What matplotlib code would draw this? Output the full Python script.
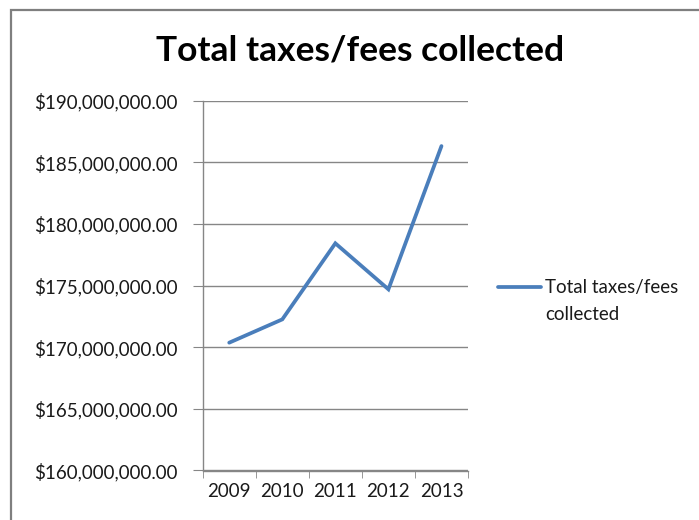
#!/usr/bin/env python
# coding: utf_8

import matplotlib
matplotlib.use("Agg")
import matplotlib.pyplot as plt
import matplotlib.ticker as mticker
from matplotlib.patches import Rectangle

# Chart data.
years = ["2009", "2010", "2011", "2012", "2013"]
collected = [170370000, 172260000, 178430000, 174700000, 186320000]
y_ticks = [160000000, 165000000, 170000000, 175000000, 180000000, 185000000, 190000000]

title = "Total taxes/fees collected"
legend_label = "Total taxes/fees\ncollected"

GRID = "#868686"
LINE = "#4A7EBB"
TEXT = "#1a1a1a"
FONT = ["Lato", "DejaVu Sans"]


def money(v, pos):
    return "${:,.2f}".format(v)


def main():
    plt.rcParams["font.family"] = FONT
    fig = plt.figure(figsize=(6.99, 5.20), dpi=100)

    # Chart frame (the outer gray border, runs off the right/bottom edges).
    fig.patches.append(Rectangle((11 / 699, -0.1), 1.2, 1 - 10 / 520 + 0.1,
                                 transform=fig.transFigure, fill=False,
                                 edgecolor="#7f7f7f", linewidth=1.6))

    ax = fig.add_axes([202.7 / 699, 1 - 470.5 / 520,
                       (468 - 202.7) / 699, (470.5 - 100.7) / 520])

    x = list(range(len(years)))
    ax.plot(x, collected, color=LINE, linewidth=2.7, solid_capstyle="round",
            solid_joinstyle="miter", label=legend_label)

    ax.set_xlim(-0.5, len(years) - 0.5)
    ax.set_ylim(y_ticks[0], y_ticks[-1])

    # Axes look.
    for side in ["top", "right"]:
        ax.spines[side].set_visible(False)
    for side in ["left", "bottom"]:
        ax.spines[side].set_color(GRID)
        ax.spines[side].set_linewidth(1.0)

    ax.set_yticks(y_ticks)
    ax.yaxis.set_major_formatter(mticker.FuncFormatter(money))
    ax.yaxis.grid(True, color=GRID, linewidth=1.0)
    ax.set_axisbelow(True)
    ax.tick_params(axis="y", length=7, color=GRID, labelsize=13.5,
                   labelcolor=TEXT, pad=11)

    # Category labels centred, tick marks on the boundaries.
    ax.set_xticks(x)
    ax.set_xticklabels(years)
    ax.set_xticks([i - 0.5 for i in range(len(years) + 1)], minor=True)
    ax.tick_params(axis="x", which="major", length=0, labelsize=13.5,
                   labelcolor=TEXT, pad=9)
    ax.tick_params(axis="x", which="minor", length=5, color=GRID)

    fig.text(360 / 699, 1 - 51 / 520, title, ha="center", va="center",
             fontsize=25.5, fontweight="bold", color="black")

    leg = fig.legend(loc="upper left", bbox_to_anchor=(498 / 699, 1 - 279 / 520),
                     frameon=False, fontsize=13.5, handlelength=2.3,
                     handletextpad=0.2, borderaxespad=0, borderpad=0)
    for t in leg.get_texts():
        t.set_color(TEXT)
        t.set_linespacing(1.75)

    # Put the legend line next to the first text line, as in the reference.
    fig.canvas.draw()
    text = leg.get_texts()[0]
    line = leg.get_lines()[0]
    tb = text.get_window_extent()
    lb = line.get_window_extent()
    first_line_mid = tb.y1 - 0.42 * 13.5 * fig.dpi / 72
    shift = (first_line_mid - (lb.y0 + lb.y1) / 2) * 72 / fig.dpi
    line.set_ydata([y + shift for y in line.get_ydata()])

    fig.savefig("out.png", dpi=100)


if __name__ == "__main__":
    main()
